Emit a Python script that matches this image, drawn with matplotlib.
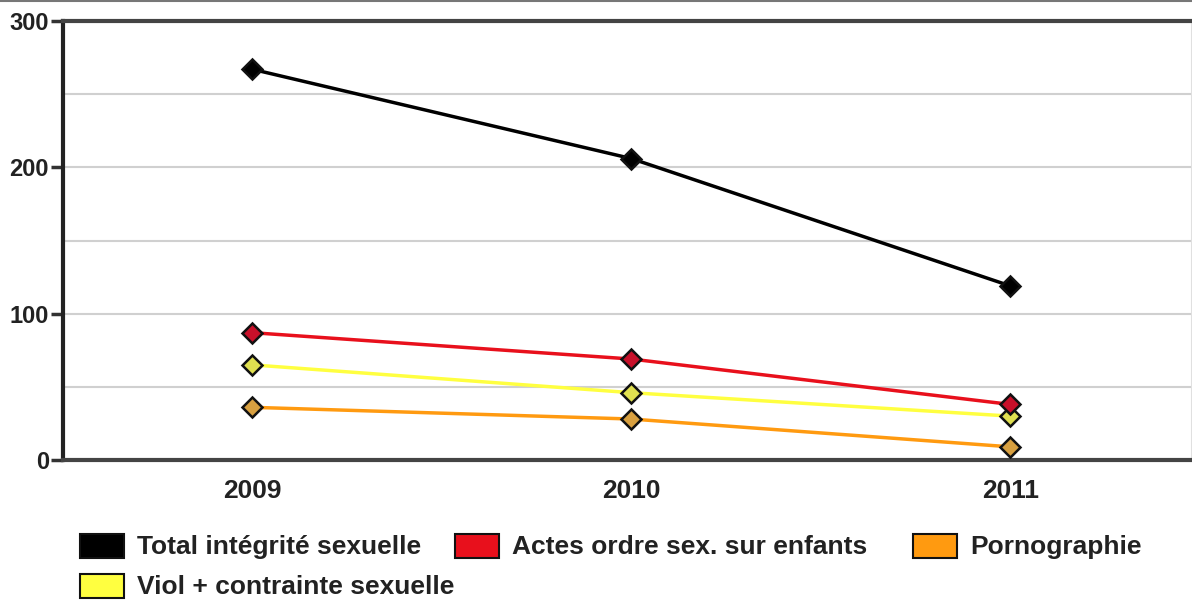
import matplotlib.pyplot as plt
from matplotlib.patches import Rectangle
from matplotlib.lines import Line2D

plt.rcParams['font.family'] = ['Liberation Sans', 'DejaVu Sans']
plt.rcParams['font.weight'] = 'bold'

years = ['2009', '2010', '2011']
total = [267, 206, 119]
actes = [87, 69, 38]
viol = [65, 46, 30]
porno = [36, 28, 9]

series = [
    ('Total intégrité sexuelle', total, '#000000', '#000000'),
    ('Actes ordre sex. sur enfants', actes, '#e8101c', '#c8102a'),
    ('Viol + contrainte sexuelle', viol, '#ffff40', '#e0e050'),
    ('Pornographie', porno, '#ff9a10', '#d8a040'),
]

fig = plt.figure(figsize=(11.92, 6.06), dpi=100)
ax = fig.add_axes([63 / 1192, 1 - 460 / 606, 1 - 63 / 1192, 439 / 606])

x = range(len(years))
# draw back to front so the black line sits on top
for name, vals, lc, mc in [series[3], series[2], series[1], series[0]]:
    ax.plot(x, vals, color=lc, lw=2.5, marker='D', markersize=10,
            markerfacecolor=mc, markeredgecolor='#111111', markeredgewidth=1.8,
            zorder=3)

ax.set_xlim(-0.5, 2.48)
ax.set_ylim(0, 300)
ax.set_xticks(list(x))
ax.set_xticklabels(years)
ax.set_yticks([0, 100, 200, 300])
ax.set_yticks([50, 150, 250], minor=True)
ax.tick_params(axis='x', length=0, pad=14, labelsize=19)
ax.tick_params(axis='y', which='major', length=9, width=2.5, color='#333333',
               labelsize=17, pad=1)
ax.tick_params(axis='y', which='minor', length=0)
ax.grid(axis='y', which='both', color='#d0d0d0', lw=1.5, zorder=0)

ax.spines['left'].set_color('#222222')
ax.spines['left'].set_linewidth(3)
ax.spines['bottom'].set_color('#444444')
ax.spines['bottom'].set_linewidth(3)
ax.spines['top'].set_color('#444444')
ax.spines['top'].set_linewidth(3)
ax.spines['right'].set_color('#e0e0e0')
ax.spines['right'].set_linewidth(1.5)
for lbl in ax.get_xticklabels() + ax.get_yticklabels():
    lbl.set_color('#222222')

# thin line at the very top of the image
fig.add_artist(Line2D([0, 1], [1 - 1 / 606, 1 - 1 / 606], color='#777777', lw=1.5))

# legend drawn by hand to keep the row layout of the original
W, H = 1192, 606
legend_pos = [(80, 546), (455, 546), (80, 586), (913, 546)]
for (name, vals, lc, mc), (px, py) in zip(series, legend_pos):
    fig.add_artist(Rectangle((px / W, 1 - (py + 12) / H), 44 / W, 24 / H,
                             facecolor=lc, edgecolor='#111111', lw=1.5,
                             transform=fig.transFigure))
    fig.text((px + 57) / W, 1 - (py + 1) / H, name, fontsize=19, va='center',
             ha='left', color='#222222')

fig.savefig('out.png', dpi=100)
